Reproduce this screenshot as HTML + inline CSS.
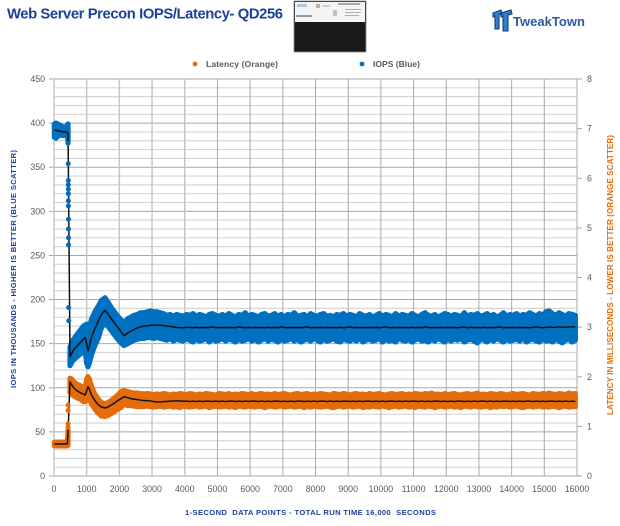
<!DOCTYPE html>
<html>
<head>
<meta charset="utf-8">
<title>Web Server Precon IOPS/Latency- QD256</title>
<style>
html,body{margin:0;padding:0;background:#fff;width:620px;height:526px;overflow:hidden}
svg{display:block}
text{font-family:"Liberation Sans",sans-serif}
</style>
</head>
<body>
<svg id="chart" xmlns="http://www.w3.org/2000/svg" width="620" height="526" viewBox="0 0 620 526">
  <text x="7" y="18.5" font-size="14.8" font-weight="700" fill="#1d3f9b" textLength="276" lengthAdjust="spacing">Web Server Precon IOPS/Latency- QD256</text>

  <g>
    <rect x="294" y="1" width="72" height="51" fill="#1a1a1a" stroke="#8a8a8a" stroke-width="0.8"/>
    <rect x="295" y="2" width="70" height="20" fill="#f4f4f4"/>
    <rect x="297" y="4" width="10" height="3" fill="#a9c8e2"/>
    <rect x="296" y="15" width="16" height="2" fill="#9a9a9a"/>
    <rect x="316" y="4" width="4" height="4" fill="#b4b4b4"/>
    <rect x="322" y="5" width="8" height="2" fill="#cfcfcf"/>
    <rect x="333" y="10" width="4" height="6" fill="#c0c0c0"/>
    <rect x="338" y="3" width="22" height="2" fill="#a8a8a8"/>
    <rect x="345" y="9" width="16" height="1" fill="#b0b0b0"/>
    <rect x="345" y="12" width="16" height="1" fill="#b0b0b0"/>
    <rect x="345" y="15" width="14" height="1" fill="#b0b0b0"/>
  </g>

  <g>
    <path d="M493 13 L501 10 L502 14 L499 15 L499 29 L495 29 L495 16 L493 17 Z M501 13 L511 10 L512 14 L508 15 L508 31 L503 31 L503 16 L501 17 Z" fill="#2f7fd0" stroke="#173a78" stroke-width="1.1"/>
    <text x="513" y="26" font-size="13" font-weight="700" fill="#2c5aa5" textLength="72" lengthAdjust="spacing">TweakTown</text>
  </g>

  <g>
    <circle cx="195" cy="64" r="2.4" fill="#e46c0a"/>
    <text x="206" y="67" font-size="8.5" font-weight="700" fill="#595959" textLength="72" lengthAdjust="spacing">Latency (Orange)</text>
    <circle cx="362" cy="64" r="2.4" fill="#0070c0"/>
    <text x="373" y="67" font-size="8.5" font-weight="700" fill="#595959" textLength="47" lengthAdjust="spacing">IOPS (Blue)</text>
  </g>

  <g id="grid"></g>
  <g id="axes"></g>
  <g id="series"></g>

  <text transform="translate(16,269) rotate(-90)" text-anchor="middle" font-size="7.6" font-weight="700" fill="#1d3f9b" textLength="238" lengthAdjust="spacing">IOPS IN THOUSANDS - HIGHER IS BETTER (BLUE SCATTER)</text>
  <text transform="translate(613,275) rotate(-90)" text-anchor="middle" font-size="8" font-weight="700" fill="#e46c0a" textLength="280" lengthAdjust="spacing">LATENCY IN MILLISECONDS - LOWER IS BETTER (ORANGE SCATTER)</text>
  <text x="185" y="515" font-size="7.6" font-weight="700" fill="#1d3f9b" textLength="251" lengthAdjust="spacing" xml:space="preserve">1-SECOND  DATA POINTS - TOTAL RUN TIME 16,000  SECONDS</text>
</svg>

<script>
const xTicks = [0,1000,2000,3000,4000,5000,6000,7000,8000,9000,10000,11000,12000,13000,14000,15000,16000];
const yTicksLeft = [0,50,100,150,200,250,300,350,400,450];
const yTicksRight = [0,1,2,3,4,5,6,7,8];
const yMinorLeft = [10,20,30,40,60,70,80,90,110,120,130,140,160,170,180,190,210,220,230,240,260,270,280,290,310,320,330,340,360,370,380,390,410,420,430,440];

const times = [10,60,110,160,210,260,310,360,410,430,
490,530,600,700,800,900,950,1000,1040,1080,
1150,1250,1350,1450,1560,1650,1750,1850,1950,2050,
2140,2250,2350,2450,2550,2650,2750,2850,2950,3050,
3150,3250,3350,3450,3550,3650,3750,3850,3950,4050,
4150,4250,4350,4450,4550,4650,4750,4850,4950,5050,
5150,5250,5350,5450,5550,5650,5750,5850,5950,6050,
6150,6250,6350,6450,6550,6650,6750,6850,6950,7050,
7150,7250,7350,7450,7550,7650,7750,7850,7950,8050,
8150,8250,8350,8450,8550,8650,8750,8850,8950,9050,
9150,9250,9350,9450,9550,9650,9750,9850,9950,10050,
10150,10250,10350,10450,10550,10650,10750,10850,10950,11050,
11150,11250,11350,11450,11550,11650,11750,11850,11950,12050,
12150,12250,12350,12450,12550,12650,12750,12850,12950,13050,
13150,13250,13350,13450,13550,13650,13750,13850,13950,14050,
14150,14250,14350,14450,14550,14650,14750,14850,14950,15050,
15150,15250,15350,15450,15550,15650,15750,15850,15950];

const iopsHigh = [399,400,399,398,397,396,395,395,398,399,
146,150,155,160,165,170,171,172,165,168,
178,186,192,199,202,197,191,186,181,177,
174,178,180,182,183,185,185,186,187,186,
186,185,184,182,183,181,183,182,181,183,
182,184,181,183,182,180,183,184,182,181,
183,181,184,182,180,183,182,185,181,183,
182,180,183,184,181,182,184,181,183,180,
183,182,185,181,182,183,180,184,182,181,
183,184,181,182,180,183,182,184,181,183,
182,180,184,182,181,183,180,182,184,181,
183,182,180,184,181,183,182,181,184,182,
180,183,185,182,181,183,180,182,184,183,
181,183,182,180,185,181,183,182,184,181,
182,184,181,183,180,182,185,181,183,182,
184,181,183,182,185,183,181,184,182,186,
187,184,182,185,183,181,184,183,182];

const iopsLow = [384,383,385,386,387,386,386,387,388,378,
125,128,132,135,138,141,143,128,124,128,
138,148,156,168,173,170,165,160,155,151,
148,150,152,154,155,156,156,157,157,156,
157,156,155,154,156,153,155,154,153,155,
154,152,155,153,154,156,152,155,153,154,
156,153,155,154,152,155,153,154,156,153,
155,152,154,156,153,155,154,152,155,153,
154,156,153,155,152,154,155,153,156,154,
152,155,153,154,156,153,152,155,154,153,
155,153,156,152,154,155,153,154,156,152,
155,153,154,152,156,154,153,155,152,154,
156,153,154,152,155,153,156,154,152,155,
153,155,154,156,152,154,155,153,151,155,
154,152,155,153,156,154,152,155,153,154,
155,153,156,152,154,155,153,152,155,153,
154,152,155,153,151,154,155,152,154];

const iopsMean = [392,392,391,391,391,390,390,390,389,388,
135,138,143,147,151,155,157,150,142,147,
158,167,175,183,188,183.5,178.5,173.5,168.5,163.5,
159,162,164,166,168,169,170,170,171,171,
171,171,170.5,170,169.5,169,168.5,168,168,168.5,
168.5,168,168.5,168,168.5,168,168.5,169,168,168.5,
168,168.5,168,168.5,168,169,168.5,168,168.5,168,
168.5,168,168.5,168,168.5,168,168.5,168,169,168.5,
168,168.5,168,168.5,168,168.5,169,168,168.5,168,
168.5,168,168.5,168,168.5,168,168.5,168,168.5,169,
168,168.5,168,168.5,168,168.5,168,168.5,168,168.5,
169,168,168.5,168,168.5,168,168.5,168,168.5,168,
168.5,168,169,168.5,168,168.5,168,168.5,168,168.5,
168,168.5,168,168.5,169,168,168.5,168,168.5,168,
168.5,168,168.5,168,168.5,169,168,168.5,168,168.5,
168,168.5,168,168.5,168,168.5,169,168.5,168,168.5,
169,168.5,168.5,169,168.5,168.5,169,169,169];

const latHigh = [0.68,0.68,0.68,0.68,0.68,0.68,0.68,0.68,0.69,0.93,
1.97,1.96,1.90,1.85,1.82,1.78,1.78,1.95,2.00,1.95,
1.80,1.65,1.55,1.48,1.45,1.48,1.52,1.57,1.63,1.70,
1.72,1.70,1.68,1.67,1.67,1.66,1.65,1.66,1.65,1.64,
1.65,1.64,1.66,1.65,1.63,1.65,1.64,1.66,1.65,1.64,
1.66,1.65,1.63,1.65,1.64,1.66,1.65,1.64,1.63,1.66,
1.65,1.64,1.66,1.63,1.65,1.64,1.66,1.65,1.64,1.66,
1.63,1.65,1.66,1.64,1.65,1.63,1.66,1.64,1.65,1.66,
1.64,1.63,1.65,1.66,1.64,1.65,1.66,1.63,1.65,1.64,
1.66,1.65,1.64,1.63,1.66,1.65,1.64,1.66,1.65,1.63,
1.65,1.66,1.64,1.65,1.63,1.66,1.64,1.65,1.66,1.64,
1.63,1.65,1.66,1.64,1.65,1.66,1.63,1.65,1.64,1.66,
1.65,1.64,1.66,1.65,1.67,1.64,1.65,1.63,1.66,1.64,
1.65,1.66,1.64,1.63,1.65,1.66,1.64,1.65,1.67,1.64,
1.65,1.63,1.66,1.65,1.64,1.66,1.65,1.63,1.65,1.66,
1.64,1.65,1.66,1.64,1.63,1.66,1.65,1.64,1.66,1.65,
1.67,1.65,1.64,1.66,1.65,1.64,1.67,1.65,1.66];

const latLow = [0.61,0.61,0.61,0.61,0.61,0.61,0.61,0.61,0.61,0.62,
1.68,1.66,1.62,1.58,1.55,1.50,1.50,1.52,1.58,1.55,
1.45,1.35,1.27,1.21,1.20,1.22,1.26,1.30,1.35,1.38,
1.45,1.42,1.42,1.41,1.40,1.40,1.40,1.41,1.40,1.39,
1.40,1.41,1.39,1.40,1.41,1.39,1.40,1.38,1.41,1.40,
1.39,1.40,1.41,1.39,1.40,1.41,1.38,1.40,1.41,1.39,
1.40,1.41,1.39,1.40,1.38,1.41,1.40,1.39,1.41,1.40,
1.39,1.41,1.40,1.38,1.40,1.41,1.39,1.40,1.41,1.39,
1.40,1.41,1.39,1.40,1.41,1.38,1.40,1.39,1.41,1.40,
1.39,1.40,1.41,1.39,1.38,1.40,1.41,1.39,1.40,1.41,
1.39,1.40,1.41,1.38,1.40,1.39,1.41,1.40,1.39,1.41,
1.40,1.38,1.40,1.41,1.39,1.40,1.41,1.39,1.40,1.38,
1.41,1.40,1.39,1.41,1.40,1.38,1.40,1.41,1.39,1.40,
1.41,1.39,1.40,1.38,1.41,1.40,1.39,1.41,1.40,1.39,
1.40,1.41,1.38,1.40,1.39,1.41,1.40,1.41,1.39,1.40,
1.41,1.39,1.38,1.40,1.41,1.39,1.40,1.41,1.39,1.40,
1.39,1.41,1.40,1.38,1.40,1.41,1.39,1.40,1.40];

const latMean = [0.645,0.645,0.645,0.645,0.645,0.645,0.645,0.645,0.65,0.90,
1.90,1.85,1.78,1.72,1.68,1.65,1.63,1.72,1.80,1.75,
1.63,1.52,1.44,1.39,1.37,1.39,1.43,1.47,1.52,1.56,
1.60,1.58,1.56,1.55,1.54,1.53,1.52,1.52,1.51,1.50,
1.49,1.49,1.50,1.50,1.51,1.51,1.52,1.51,1.51,1.51,
1.50,1.51,1.50,1.51,1.50,1.51,1.51,1.50,1.51,1.50,
1.51,1.50,1.51,1.51,1.50,1.51,1.50,1.51,1.50,1.51,
1.51,1.50,1.51,1.50,1.51,1.50,1.51,1.51,1.50,1.51,
1.50,1.51,1.50,1.51,1.51,1.50,1.51,1.50,1.51,1.50,
1.51,1.51,1.50,1.51,1.50,1.51,1.50,1.51,1.51,1.50,
1.51,1.50,1.51,1.50,1.51,1.51,1.50,1.51,1.50,1.51,
1.50,1.51,1.51,1.50,1.51,1.50,1.51,1.50,1.51,1.51,
1.50,1.51,1.50,1.51,1.50,1.51,1.51,1.50,1.51,1.50,
1.51,1.50,1.51,1.51,1.50,1.51,1.50,1.51,1.50,1.51,
1.51,1.50,1.51,1.50,1.51,1.50,1.51,1.51,1.50,1.51,
1.50,1.51,1.50,1.51,1.51,1.50,1.51,1.50,1.51,1.50,
1.51,1.51,1.50,1.51,1.50,1.51,1.50,1.51,1.50];

const iopsDropValues = [377,354,335,330,325,320,312,306,291,280,270,262,191,176];
const iopsDropTimes = [432,436,438,438,438,438,440,440,442,442,444,444,448,450];
const latDropValues = [1.43,1.32,1.05,0.98];
const latDropTimes = [432,430,430,430];

const SVGNS = 'http://www.w3.org/2000/svg';
const grid = document.getElementById('grid');
const axes = document.getElementById('axes');
const seriesG = document.getElementById('series');

const plotLeft = 54, plotRight = 577, plotTop = 79, plotBottom = 476;
function xScale(t){ return plotLeft + (t / 16000) * (plotRight - plotLeft); }
function yLeft(v){ return plotBottom - (v / 450) * (plotBottom - plotTop); }
function yRight(v){ return plotBottom - (v / 8) * (plotBottom - plotTop); }

function make(tag, attrs, parent){
  const el = document.createElementNS(SVGNS, tag);
  for (const k in attrs) el.setAttribute(k, attrs[k]);
  parent.appendChild(el);
  return el;
}

yMinorLeft.forEach(v => {
  const l = make('line', {x1:plotLeft, x2:plotRight, y1:yLeft(v), y2:yLeft(v), stroke:'#d6d6d6', 'stroke-width':1.2}, grid);
  
  
});
yTicksLeft.forEach(v => {
  const l = make('line', {x1:plotLeft - 5, x2:plotRight, y1:yLeft(v), y2:yLeft(v), stroke:v === 450 ? '#c4c4c4' : '#a8a8a8', 'stroke-width':v === 450 ? 1.4 : 1}, grid);
  
  
  const t = make('text', {x:plotLeft - 9, y:yLeft(v) + 3, 'text-anchor':'end', 'font-size':8.8, fill:'#595959'}, axes);
  t.textContent = v;
  
  
});
yTicksRight.forEach(v => {
  const l = make('line', {x1:plotRight, x2:plotRight + 5, y1:yRight(v), y2:yRight(v), stroke:'#a8a8a8', 'stroke-width':1}, axes);
  
  
  const t = make('text', {x:plotRight + 10, y:yRight(v) + 3, 'font-size':8.8, fill:'#595959'}, axes);
  t.textContent = v;
  
  
});
xTicks.forEach(v => {
  const light = v < 5000;
  const l = make('line', {x1:xScale(v), x2:xScale(v), y1:plotTop, y2:plotBottom, stroke:light ? '#c4c4c4' : '#ababab', 'stroke-width':light ? 1.4 : 1}, grid);
  
  
  const t = make('text', {x:xScale(v), y:492, 'text-anchor':'middle', 'font-size':8.8, fill:'#595959'}, axes);
  t.textContent = v;
  
  
});

function drawBand(high, low, yFn, color, name){
  const g = make('g', {}, seriesG);
  
  
  times.forEach((t, i) => {
    if (i === times.length - 1 || t === 430) return;
    const x0 = xScale(t).toFixed(2);
    const x1 = xScale(times[i + 1]).toFixed(2);
    const pts = x0 + ',' + yFn(high[i]).toFixed(2) + ' ' + x1 + ',' + yFn(high[i + 1]).toFixed(2) + ' ' + x1 + ',' + yFn(low[i + 1]).toFixed(2) + ' ' + x0 + ',' + yFn(low[i]).toFixed(2);
    const m = make('polygon', {points:pts, fill:color, stroke:color, 'stroke-width':5.2, 'stroke-linejoin':'round'}, g);
    
    
  });
}
function drawDots(ts, vals, yFn, color, name){
  ts.forEach((t, i) => {
    const c = make('circle', {cx:xScale(t), cy:yFn(vals[i]), r:2.5, fill:color}, seriesG);
    
    
  });
}
function drawMean(vals, yFn, name){
  const d = times.map((t, i) => (i ? 'L' : 'M') + xScale(t).toFixed(2) + ' ' + yFn(vals[i]).toFixed(2)).join(' ');
  const p = make('path', {d:d, fill:'none', stroke:'#111', 'stroke-width':1.5, 'stroke-linejoin':'round'}, seriesG);
  
  
}

drawBand(iopsHigh, iopsLow, yLeft, '#0070c0', 'iops-scatter');
drawBand(latHigh, latLow, yRight, '#e46c0a', 'latency-scatter');
drawMean(iopsMean, yLeft, 'iops-average-line');
drawMean(latMean, yRight, 'latency-average-line');
drawDots(iopsDropTimes, iopsDropValues, yLeft, '#0a68b0', 'iops-drop-point');
drawDots(latDropTimes, latDropValues, yRight, '#e46c0a', 'latency-drop-point');
</script>
</body>
</html>
